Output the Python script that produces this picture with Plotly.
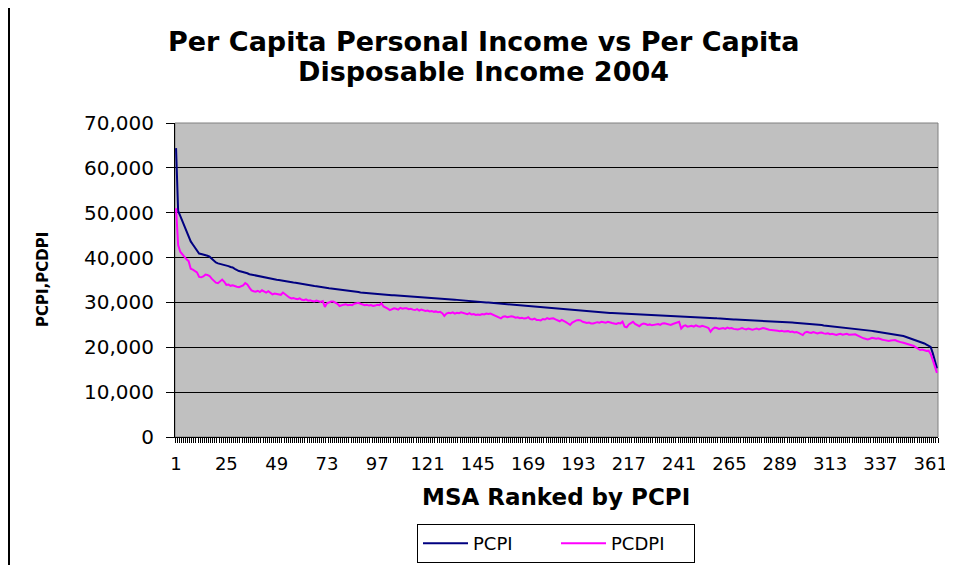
import plotly.graph_objects as go

# MSA rank (1 = highest per capita personal income)
pcpi = [
    64400, 50400, 49300, 48100, 47000, 45600, 44400, 43600, 42900, 42300,
    41600, 40900, 40800, 40700, 40600, 40400, 40200, 39700, 39200, 38900,
    38700, 38600, 38500, 38400, 38200, 38100, 37900, 37800, 37500, 37200,
    37000, 36900, 36800, 36700, 36500, 36300, 36200, 36000, 35900, 35800,
    35700, 35600, 35500, 35400, 35350, 35300, 35200, 35100, 35050, 35000,
    34900, 34800, 34700, 34650, 34600, 34500, 34450, 34400, 34300, 34250,
    34100, 34000, 33950, 33900, 33800, 33700, 33650, 33600, 33500, 33400,
    33300, 33250, 33200, 33150, 33100, 33050, 33000, 32950, 32800, 32750,
    32700, 32650, 32600, 32550, 32500, 32450, 32400, 32300, 32200, 32150,
    32100, 32050, 32000, 31950, 31900, 31850, 31800, 31750, 31720, 31700,
    31680, 31660, 31650, 31620, 31590, 31560, 31530, 31500, 31470, 31440,
    31410, 31380, 31350, 31320, 31290, 31260, 31230, 31200, 31170, 31140,
    31110, 31080, 31060, 31040, 31020, 31000, 30970, 30920, 30870, 30820,
    30770, 30720, 30670, 30620, 30570, 30520, 30470, 30420, 30370, 30320,
    30280, 30250, 30220, 30190, 30160, 30130, 30090, 30050, 30010, 29970,
    29930, 29890, 29850, 29810, 29770, 29730, 29690, 29650, 29610, 29570,
    29530, 29500, 29470, 29440, 29400, 29350, 29300, 29250, 29200, 29150,
    29100, 29050, 29000, 28950, 28900, 28850, 28800, 28750, 28700, 28650,
    28600, 28570, 28540, 28500, 28460, 28420, 28380, 28340, 28300, 28260,
    28220, 28180, 28140, 28100, 28060, 28020, 27980, 27940, 27900, 27860,
    27820, 27780, 27740, 27700, 27690, 27680, 27670, 27660, 27650, 27630,
    27610, 27590, 27570, 27550, 27500, 27450, 27420, 27380, 27350, 27330,
    27300, 27270, 27250, 27230, 27220, 27200, 27180, 27160, 27150, 27140,
    27120, 27100, 27080, 27060, 27040, 27020, 27000, 26990, 26970, 26960,
    26940, 26920, 26900, 26880, 26860, 26840, 26820, 26800, 26780, 26760,
    26740, 26720, 26700, 26680, 26650, 26600, 26550, 26500, 26450, 26400,
    26350, 26300, 26280, 26260, 26240, 26220, 26200, 26180, 26160, 26140,
    26120, 26100, 26080, 26060, 26040, 26020, 26000, 25980, 25960, 25940,
    25930, 25900, 25850, 25800, 25750, 25700, 25680, 25650, 25620, 25600,
    25580, 25570, 25560, 25540, 25500, 25460, 25430, 25400, 25370, 25350,
    25340, 25330, 25300, 25250, 25200, 25150, 25100, 25050, 24950, 24880,
    24830, 24810, 24780, 24750, 24700, 24650, 24600, 24550, 24500, 24450,
    24400, 24350, 24300, 24250, 24220, 24150, 24080, 24000, 23930, 23860,
    23800, 23730, 23660, 23600, 23530, 23470, 23400, 23300, 23200, 23100,
    23050, 23000, 22960, 22900, 22800, 22700, 22600, 22500, 22350, 22200,
    22050, 21900, 21750, 21600, 21450, 21240, 21050, 20850, 20600, 20400,
    20100, 18700, 17000, 15300,
]

pcdpi = [
    51000, 42800, 41300, 40700, 40200, 39600, 39200, 37500, 37300, 36900,
    36700, 35700, 35600, 35800, 36200, 36100, 35900, 35300, 34800, 34400,
    34300, 34700, 35100, 34600, 33900, 34000, 33700, 33800, 33600, 33500,
    33400, 33600, 33800, 34300, 34000, 33300, 32700, 32500, 32400, 32600,
    32300, 32700, 32400, 32200, 32500, 32100, 31800, 32000, 31900, 31650,
    31700, 32200, 31800, 31300, 31100, 30900, 31000, 30800, 30700, 30900,
    30600, 30500, 30700, 30400, 30500, 30300, 30200, 30400, 30200, 30100,
    30300, 29000, 29800, 30000, 30200, 30200, 29900, 29700, 29200, 29400,
    29500, 29600, 29400, 29500, 29400, 29700, 29800, 29900, 29700, 29600,
    29400, 29500, 29300, 29400, 29200, 29300, 29500, 29400, 29800, 29100,
    28900, 28600, 28300, 28500, 28700, 28600, 28400, 28800, 28600, 28700,
    28700, 28500, 28600, 28400, 28300, 28500, 28200, 28400, 28300, 28100,
    28200, 28000, 28100, 27900, 28000, 27800, 27900, 27600, 27000, 27500,
    27700, 27600, 27800, 27500, 27700, 27600, 27800, 27700, 27500, 27400,
    27600, 27300, 27400, 27200, 27300, 27200, 27400, 27300, 27500, 27400,
    27500, 27300, 27000, 26900, 26600, 26450, 26800, 26900, 26700, 26800,
    26900, 26800, 26600, 26700, 26500, 26600, 26400, 26450, 26700, 26300,
    26200, 26400, 26100, 26100, 26000, 26300, 26200, 26500, 26300, 26400,
    26450, 26200, 26000, 25800, 26100, 25900, 25600, 25300, 25000, 25500,
    25800, 26000, 26100, 26000, 25700, 25600, 25400, 25500, 25300, 25300,
    25400, 25600, 25500, 25700, 25600, 25500, 25700, 25500, 25400, 25300,
    25200, 25400, 25330, 25700, 24600, 24450, 25100, 25400, 25700, 25200,
    24900, 24700, 25100, 25300, 25200, 25000, 25100, 24900, 25000, 25100,
    25200, 25000, 25300, 25330, 25200, 25100, 25000, 25200, 25400, 25500,
    25700, 24200, 24700, 24900, 24600, 24700, 24800, 24600, 24900, 24700,
    24600, 24800, 24700, 24500, 24300, 23470, 24100, 24400, 24300, 24100,
    24200, 24300, 24100, 24400, 24200, 24300, 24100, 24000, 23950, 24100,
    24300, 24100, 24000, 24200, 24100, 23900, 24050, 24200, 24000, 24100,
    24300, 24200, 24000, 23900, 23850, 23800, 23900, 23700, 23600, 23700,
    23500, 23470, 23600, 23400, 23500, 23300, 23400, 23200, 23000, 22730,
    23300, 23470, 23300, 23200, 23400, 23300, 23100, 23250, 23300, 23100,
    23000, 23100, 22900, 23000, 22800, 22730, 22900, 23000, 22800, 22900,
    23000, 22800, 22900, 22850, 22880, 22600, 22400, 22200, 22000, 21900,
    21770, 21900, 22100, 22000, 21900, 22000, 21800, 21700, 21600, 21500,
    21400, 21500, 21600, 21620, 21400, 21200, 21100, 21000, 20880, 20700,
    20500, 20400, 20280, 20000, 19700, 19400, 19500, 19300, 19200, 19250,
    18500, 17200, 15800, 14300,
]

ranks = list(range(1, len(pcpi) + 1))
label_ranks = list(range(1, len(pcpi) + 1, 24))
boundaries = [r - 0.5 for r in ranks] + [len(pcpi) + 0.5]
y_ticks = [0, 10000, 20000, 30000, 40000, 50000, 60000, 70000]
title_lines = ["Per Capita Personal Income vs Per Capita", "Disposable Income 2004"]

FONT = "DejaVu Sans"
OFF = 8                      # page body margin in front of the figure
FW, FH = 953 - OFF, 565 - OFF
L, T = 175 - OFF, 123 - OFF  # plot area at screen x 175..938, y 123..437
PW, PH = 763, 314
R = FW - L - PW
B = FH - T - PH


def px_x(sx):
    return (sx - OFF - L) / PW


def px_y(sy):
    return 1 - (sy - OFF - T) / PH


fig = go.Figure()
fig.add_trace(go.Scatter(x=ranks, y=pcpi, mode="lines", name="PCPI",
                         line=dict(color="#000080", width=2)))
fig.add_trace(go.Scatter(x=ranks, y=pcdpi, mode="lines", name="PCDPI",
                         line=dict(color="#FF00FF", width=2)))

fig.update_layout(
    width=FW, height=FH,
    margin=dict(l=L, r=R, t=T, b=B, autoexpand=False),
    paper_bgcolor="white",
    plot_bgcolor="#C0C0C0",
    font=dict(family=FONT, size=17, color="black"),
    showlegend=True,
    legend=dict(orientation="h", x=px_x(556), xanchor="center",
                y=px_y(563), yanchor="bottom",
                bordercolor="black", borderwidth=1, bgcolor="white",
                font=dict(family=FONT, size=18, color="black"),
                itemwidth=45, entrywidth=78, entrywidthmode="pixels"),
    xaxis=dict(
        range=[0.5, len(pcpi) + 0.5], automargin=False,
        tickmode="array", tickvals=label_ranks, ticktext=[str(v) for v in label_ranks],
        ticks="", showgrid=False, zeroline=False,
        showline=True, linecolor="black", linewidth=1,
        ticklabelstandoff=10,
        tickfont=dict(family=FONT, size=18),
        minor=dict(tickmode="array", tickvals=boundaries, ticks="outside",
                   ticklen=5, tickcolor="black", tickwidth=1, showgrid=False),
    ),
    yaxis=dict(
        range=[0, 70000], tickmode="array", tickvals=y_ticks, automargin=False,
        tickformat=",d", ticks="outside", ticklen=8, tickcolor="black",
        showgrid=True, gridcolor="black", gridwidth=1, zeroline=False,
        showline=True, linecolor="black", linewidth=1,
        ticklabelstandoff=8,
        tickfont=dict(family=FONT, size=20),
    ),
)

# title (two lines, Excel-like line spacing)
for line_text, sy in zip(title_lines, [42, 72]):
    fig.add_annotation(text="<b>" + line_text + "</b>",
                       xref="paper", yref="paper", x=px_x(483), y=px_y(sy),
                       xanchor="center", yanchor="middle", showarrow=False,
                       font=dict(family=FONT, size=27, color="black"))
# x axis title
fig.add_annotation(text="<b>MSA Ranked by PCPI</b>",
                   xref="paper", yref="paper", x=px_x(556), y=px_y(497),
                   xanchor="center", yanchor="middle", showarrow=False,
                   font=dict(family=FONT, size=23, color="black"))
# y axis title
fig.add_annotation(text="<b>PCPI,PCDPI</b>", textangle=-90,
                   xref="paper", yref="paper", x=px_x(43), y=px_y(280),
                   xanchor="center", yanchor="middle", showarrow=False,
                   font=dict(family=FONT, size=15, color="black"))

# plot-area frame
fig.add_shape(type="rect", xref="paper", yref="paper", x0=0, y0=0, x1=1, y1=1,
              line=dict(color="#808080", width=1), layer="below")
# chart-area border (left edge visible in the reference)
fig.add_shape(type="line", xref="paper", yref="paper",
              x0=px_x(OFF + 1), x1=px_x(OFF + 1), y0=px_y(565), y1=px_y(OFF),
              line=dict(color="black", width=2))

fig.write_html("out.html")
